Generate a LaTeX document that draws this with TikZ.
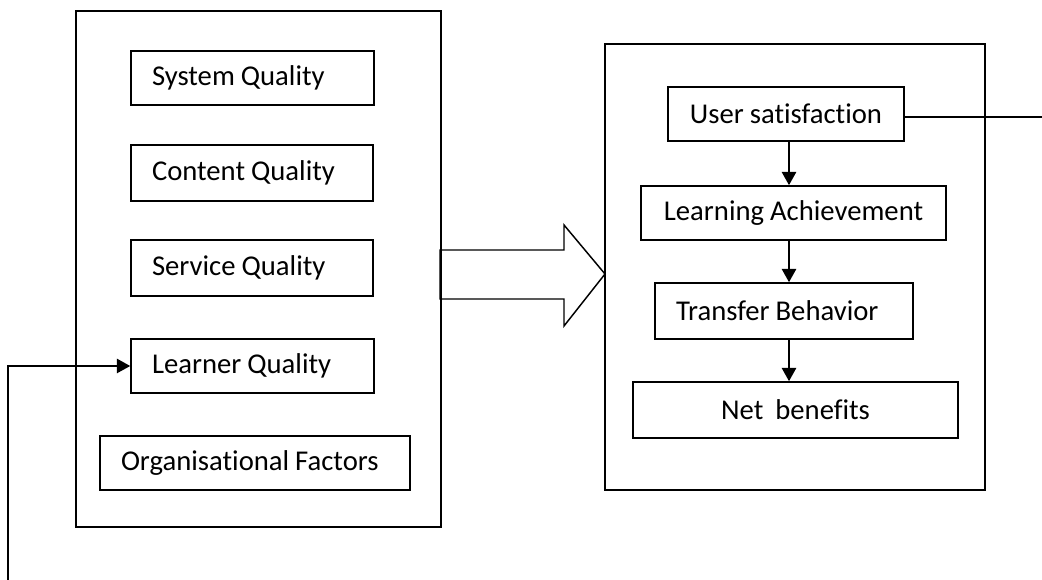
\documentclass[tikz,border=0pt]{standalone}
\usepackage{fontspec}
\setmainfont{Carlito}[Ligatures=NoCommon]
\usetikzlibrary{arrows.meta}

\newcommand{\boxfont}{\fontsize{21.5}{26}\selectfont\setlength{\spaceskip}{0.21em}}

\tikzset{every picture/.style={line width=0.75pt}}
\tikzset{
  frame/.style={draw, line width=1.1pt, inner sep=0pt},
  qbox/.style={draw, line width=1.1pt, inner xsep=15.75pt, inner ysep=0pt, align=left},
  cbox/.style={qbox, align=center, inner xsep=0pt},
  flow/.style={line width=2pt, -{Triangle[width=10.5pt,length=10pt]}},
  fb/.style={line width=1.8pt}
}

\begin{document}
\begin{tikzpicture}[x=0.75pt,y=0.75pt,yscale=-1,xscale=1]
\useasboundingbox (0,0) rectangle (1042,580);

%Shape: Rectangle [left frame]
\node[frame, minimum width=273.75pt, minimum height=387pt] (factors) at (258.5,269) {};
%Shape: Rectangle [right frame]
\node[frame, minimum width=285pt, minimum height=334.5pt] (outcomes) at (795,267) {};

% Text Node
\node[qbox, text width=150.75pt, minimum height=40.5pt] (sys) at (252.5,78) {\boxfont System Quality};
% Text Node
\node[qbox, text width=150pt, minimum height=42pt] (con) at (252,173) {\boxfont Content Quality};
% Text Node
\node[qbox, text width=150pt, minimum height=42pt] (ser) at (252,268) {\boxfont Service Quality};
% Text Node
\node[qbox, text width=150.75pt, minimum height=40.5pt] (lea) at (252.5,366) {\boxfont Learner Quality};
% Text Node
\node[qbox, text width=201pt, minimum height=40.5pt] (org) at (255,463) {\boxfont\mbox{Organisational Factors}};

% Text Node
\node[cbox, text width=177pt, minimum height=40.5pt] (usr) at (786,114) {\boxfont User satisfaction};
% Text Node
\node[cbox, text width=228.75pt, minimum height=40.5pt] (ach) at (793.5,213) {\boxfont Learning Achievement};
% Text Node
\node[qbox, text width=162pt, minimum height=42pt] (tra) at (784,311) {\boxfont Transfer Behavior};
% Text Node
\node[cbox, text width=243.75pt, minimum height=42pt] (net) at (795.5,410) {\boxfont Net\ \ benefits};

%Shape: Big arrow
\draw[line width=1.1pt] (440,250) -- (564,250) -- (564,225) -- (605,274) -- (564,326) -- (564,299) -- (440,299) -- cycle ;

%Straight Lines [down the chain]
\coordinate (axis) at (789,0);
\draw[flow] (usr.south -| axis) -- (ach.north -| axis) ;
\draw[flow] (ach.south -| axis) -- (tra.north -| axis) ;
\draw[flow] (tra.south -| axis) -- (net.north -| axis) ;

%Straight Lines [feedback]
\coordinate (fbR) at (1042,117);
\coordinate (fbL) at (8,580);
\draw[fb] (usr.east |- fbR) -- (fbR) ;
\draw[fb, -{Triangle[width=10.5pt,length=10pt]}] (fbL) |- (lea.west) ;

\end{tikzpicture}
\end{document}
